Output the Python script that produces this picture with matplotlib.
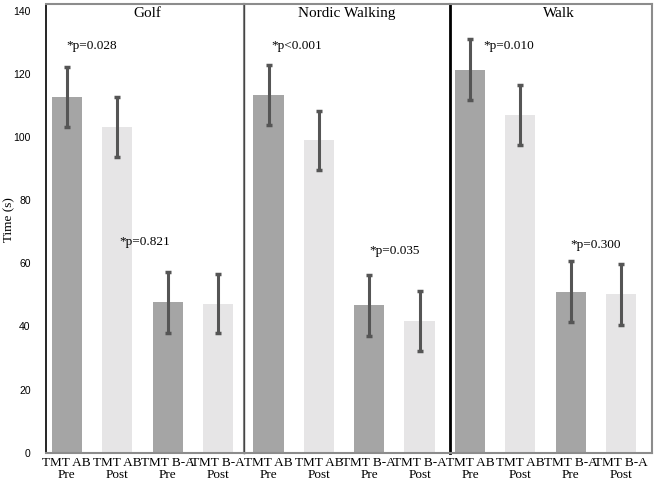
import matplotlib.pyplot as plt
import numpy as np

panels = ["Golf", "Nordic Walking", "Walk"]
labels = ["TMT AB\nPre", "TMT AB\nPost", "TMT B-A\nPre", "TMT B-A\nPost"]
means = [
    [112.6, 103.3, 47.6, 47.2],
    [113.3, 99.0, 46.7, 41.7],
    [121.4, 107.0, 51.0, 50.2],
]
errs = [
    [9.5, 9.5, 9.6, 9.3],
    [9.4, 9.4, 9.6, 9.4],
    [9.6, 9.6, 9.6, 9.7],
]
pvals_ab = ["*p=0.028", "*p<0.001", "*p=0.010"]
pvals_ba = ["*p=0.821", "*p=0.035", "*p=0.300"]

pre_col = "#a5a5a5"
post_col = "#e6e5e6"
err_col = "#555555"
frame_col = "#8c8c8c"
serif = "Liberation Serif"

fig = plt.figure(figsize=(6.55, 4.82), dpi=100)
gs = fig.add_gridspec(1, 3, width_ratios=[198, 206, 202], wspace=0,
                      left=0.0702, right=0.995, top=0.992, bottom=0.0608)

xlims = [(-0.41, 3.51), (-0.49, 3.60), (-0.40, 3.61)]
title_x = [1.6, 1.55, 1.76]
ab_x = [0.5, 0.56, 0.78]
ba_x = [1.54, 2.5, 2.5]
ba_y = [66.7, 64.0, 65.7]

x = np.arange(4)
axes = []
for i in range(3):
    ax = fig.add_subplot(gs[0, i], sharey=axes[0] if axes else None)
    axes.append(ax)
    ax.bar(x, means[i], width=0.6, color=[pre_col, post_col, pre_col, post_col])
    ax.errorbar(x, means[i], yerr=errs[i], fmt="none", ecolor=err_col,
                elinewidth=2.2, capsize=2, capthick=2.5)
    ax.set_xlim(*xlims[i])
    ax.set_ylim(0, 142.2)
    ax.set_xticks(x)
    ax.set_xticklabels(labels, fontfamily=serif, fontsize=9.5, linespacing=1.05)
    ax.tick_params(axis="x", length=0, pad=3)
    ax.text(title_x[i], 139.0, panels[i], ha="center", va="center",
            fontfamily=serif, fontsize=11)
    ax.text(ab_x[i], 129.0, pvals_ab[i], ha="center", va="center",
            fontfamily=serif, fontsize=9.5)
    ax.text(ba_x[i], ba_y[i], pvals_ba[i], ha="center", va="center",
            fontfamily=serif, fontsize=9.5)
    for s in ["top", "right", "bottom", "left"]:
        ax.spines[s].set_color(frame_col)
        ax.spines[s].set_linewidth(1.5)
    if i > 0:
        ax.tick_params(axis="y", left=False, labelleft=False)

axes[0].spines["left"].set_color("black")
axes[0].spines["left"].set_linewidth(1.2)
axes[0].set_yticks(np.arange(0, 141, 20))
axes[0].tick_params(axis="y", length=0, pad=11, labelsize=7.5)
for lab in axes[0].get_yticklabels():
    lab.set_fontfamily("Liberation Sans")
axes[0].set_ylabel("Time (s)", fontfamily=serif, fontsize=9.5)
axes[0].yaxis.set_label_coords(-0.155, 0.52)

axes[1].spines["left"].set_color("#444444")
axes[1].spines["left"].set_linewidth(1.0)
axes[1].spines["right"].set_visible(False)
axes[2].spines["left"].set_color("black")
axes[2].spines["left"].set_linewidth(2.0)

fig.savefig("out.png", dpi=100)
